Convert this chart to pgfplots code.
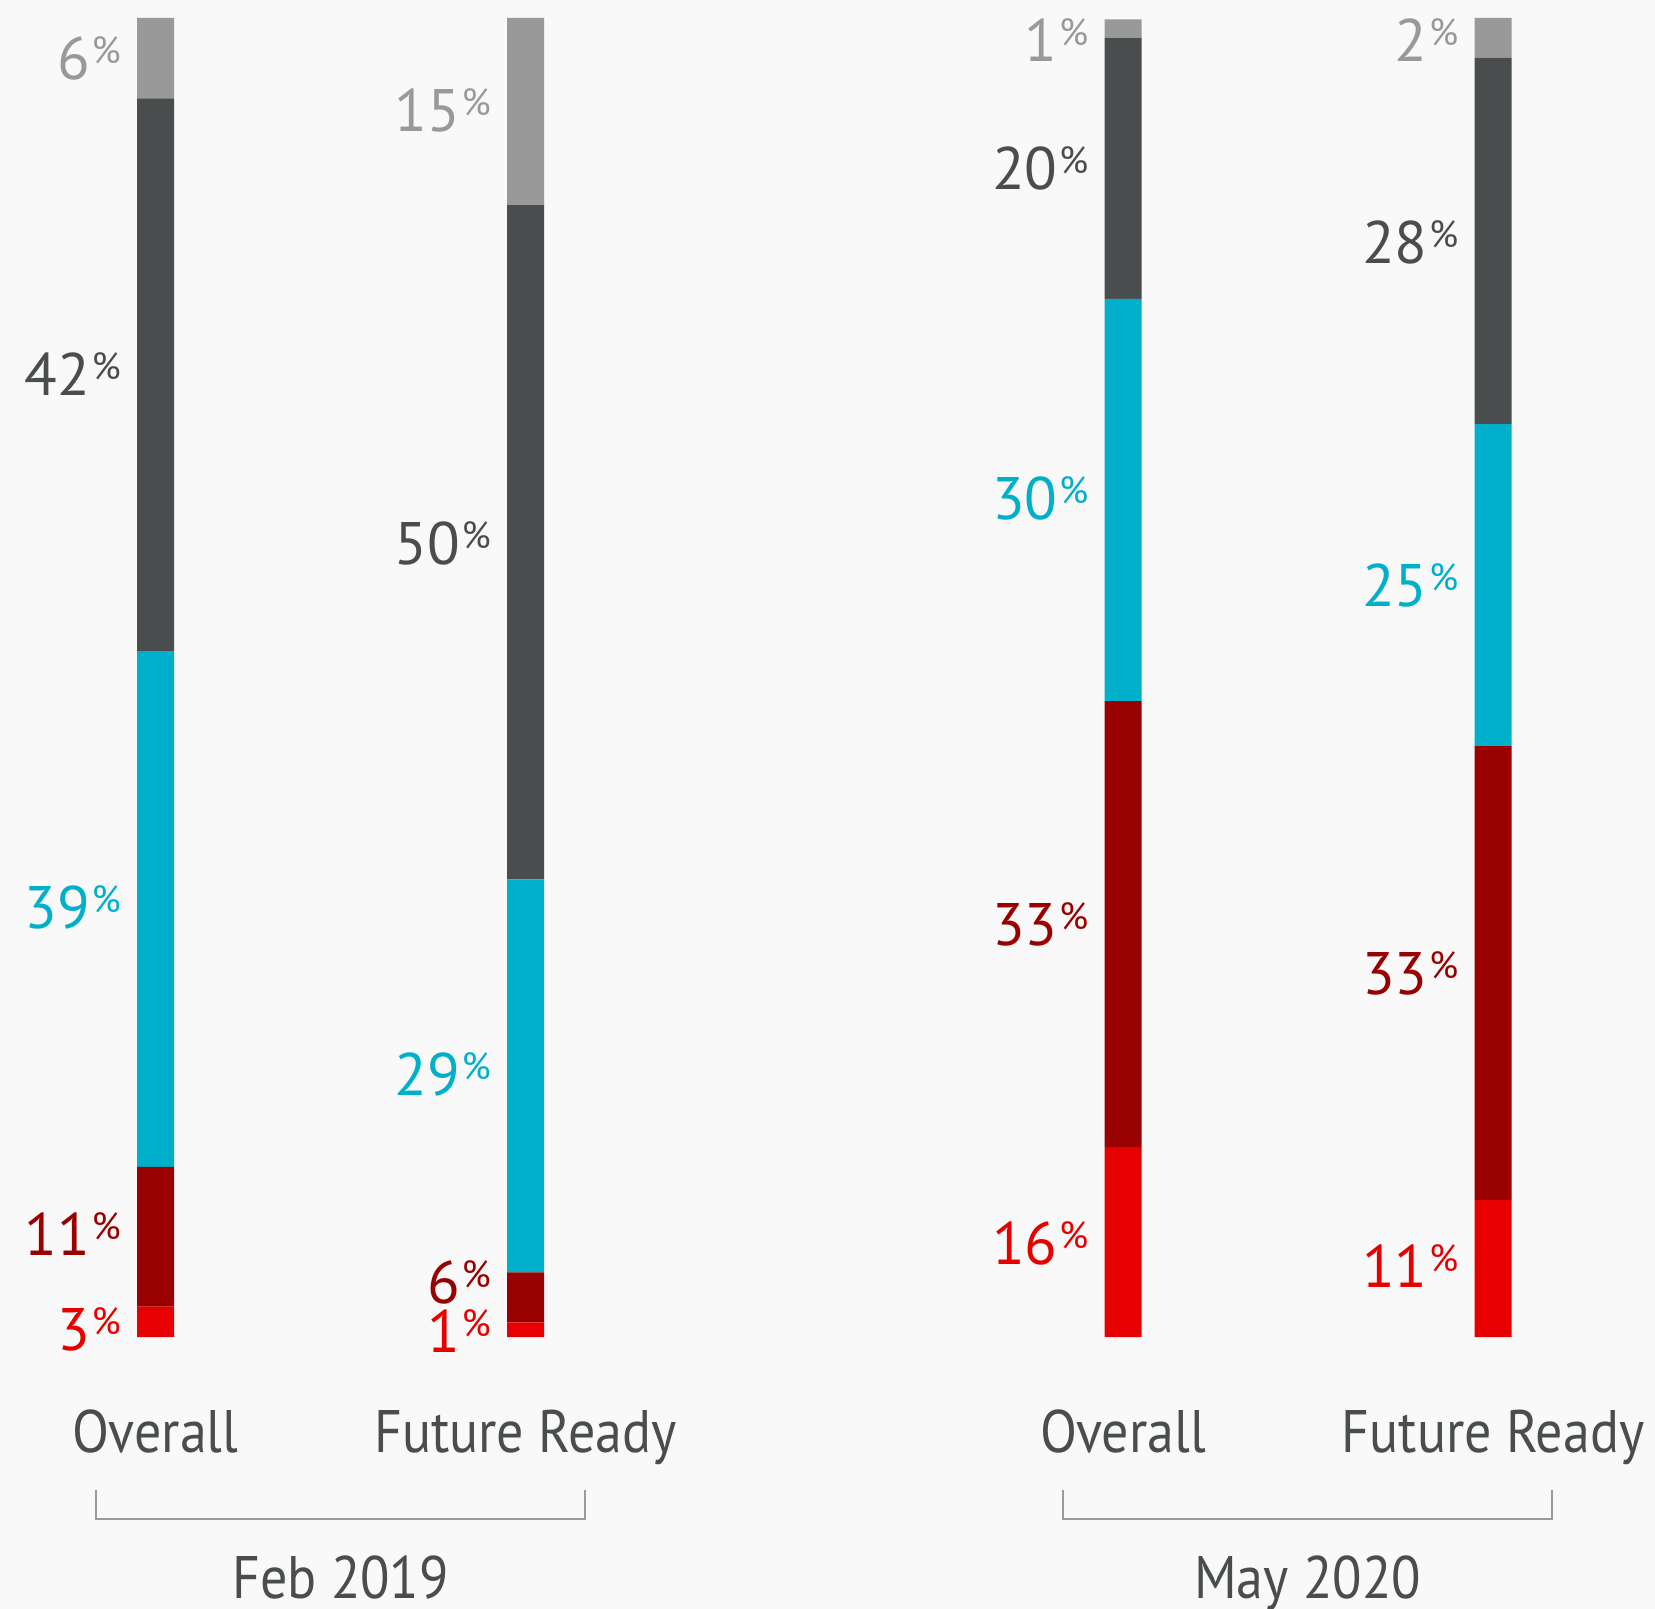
\documentclass[border=0pt]{standalone}
\usepackage{pgfplots}
\pgfplotsset{compat=1.18}
\usepackage{fontspec}
\setmainfont{PT Sans}[FakeStretch=0.9]
\newfontfamily\numfont{PT Sans}
\definecolor{cgrey}{HTML}{999999}
\definecolor{cdark}{HTML}{4A4D4E}
\definecolor{ccyan}{HTML}{00B0CA}
\definecolor{cdred}{HTML}{990000}
\definecolor{cred}{HTML}{E60000}
\definecolor{bgc}{HTML}{F9F9F9}
\definecolor{cbr}{HTML}{9B9B9B}
\newcommand{\pct}[4]{\node[anchor=east, inner sep=0pt, text height=12.6pt, text depth=0pt, text=#1, font=\numfont\fontsize{18}{18}\selectfont] at (axis cs:#2,#3) {#4\kern0.5pt\raisebox{4.8pt}{\fontsize{11.3}{11.3}\selectfont\%}};}
\newcommand{\cat}[3]{\node[anchor=base, inner sep=0pt, text=cdark, font=\fontsize{18}{18}\selectfont] at (axis cs:#1,#2) {#3};}
\begin{document}
\begin{tikzpicture}
\fill[bgc] (0,0) rectangle (496.5pt,482.7pt);
\begin{axis}[
  at={(0,0)}, anchor=south west,
  width=496.5pt, height=482.7pt, scale only axis,
  xmin=0, xmax=1655, ymin=-20.62, ymax=101.36,
  hide axis, clip=false,
  ybar stacked, bar width=11.1pt,
]
\addplot[fill=cred, draw=none] coordinates {(155.5,2.3) (525.5,1.1) (1123,14.4) (1493,10.4)};
\addplot[fill=cdred, draw=none] coordinates {(155.5,10.6) (525.5,3.8) (1123,33.8) (1493,34.4)};
\addplot[fill=ccyan, draw=none] coordinates {(155.5,39.1) (525.5,29.8) (1123,30.5) (1493,24.4)};
\addplot[fill=cdark, draw=none] coordinates {(155.5,41.9) (525.5,51.1) (1123,19.8) (1493,27.8)};
\addplot[fill=cgrey, draw=none] coordinates {(155.5,6.1) (525.5,14.2) (1123,1.4) (1493,3.0)};
% value labels
\pct{cgrey}{121.5}{96.96}{6}
\pct{cdark}{121.5}{72.96}{42}
\pct{ccyan}{121.5}{32.56}{39}
\pct{cdred}{121.5}{7.76}{11}
\pct{cred}{121.5}{0.56}{3}
\pct{cgrey}{491.5}{92.96}{15}
\pct{cdark}{491.5}{60.16}{50}
\pct{ccyan}{491.5}{19.92}{29}
\pct{cdred}{491.5}{4.16}{6}
\pct{cred}{491.5}{0.4}{1}
\pct{cgrey}{1089}{98.32}{1}
\pct{cdark}{1089}{88.56}{20}
\pct{ccyan}{1089}{63.6}{30}
\pct{cdred}{1089}{31.28}{33}
\pct{cred}{1089}{7.12}{16}
\pct{cgrey}{1459}{98.32}{2}
\pct{cdark}{1459}{82.96}{28}
\pct{ccyan}{1459}{56.96}{25}
\pct{cdred}{1459}{27.52}{33}
\pct{cred}{1459}{5.36}{11}
% category labels
\cat{155.5}{-8.79}{Overall}
\cat{525.5}{-8.79}{Future Ready}
\cat{1123}{-8.79}{Overall}
\cat{1493}{-8.79}{Future Ready}
% brackets
\draw[cbr, line width=0.7pt] (axis cs:96,-11.6) -- (axis cs:96,-13.8) -- (axis cs:585,-13.8) -- (axis cs:585,-11.6);
\draw[cbr, line width=0.7pt] (axis cs:1063,-11.6) -- (axis cs:1063,-13.8) -- (axis cs:1552,-13.8) -- (axis cs:1552,-11.6);
\cat{340.5}{-19.86}{Feb 2019}
\cat{1307.5}{-19.86}{May 2020}
\end{axis}
\pgfresetboundingbox
\useasboundingbox (0,0) rectangle (496.5pt,482.7pt);
\end{tikzpicture}
\end{document}
